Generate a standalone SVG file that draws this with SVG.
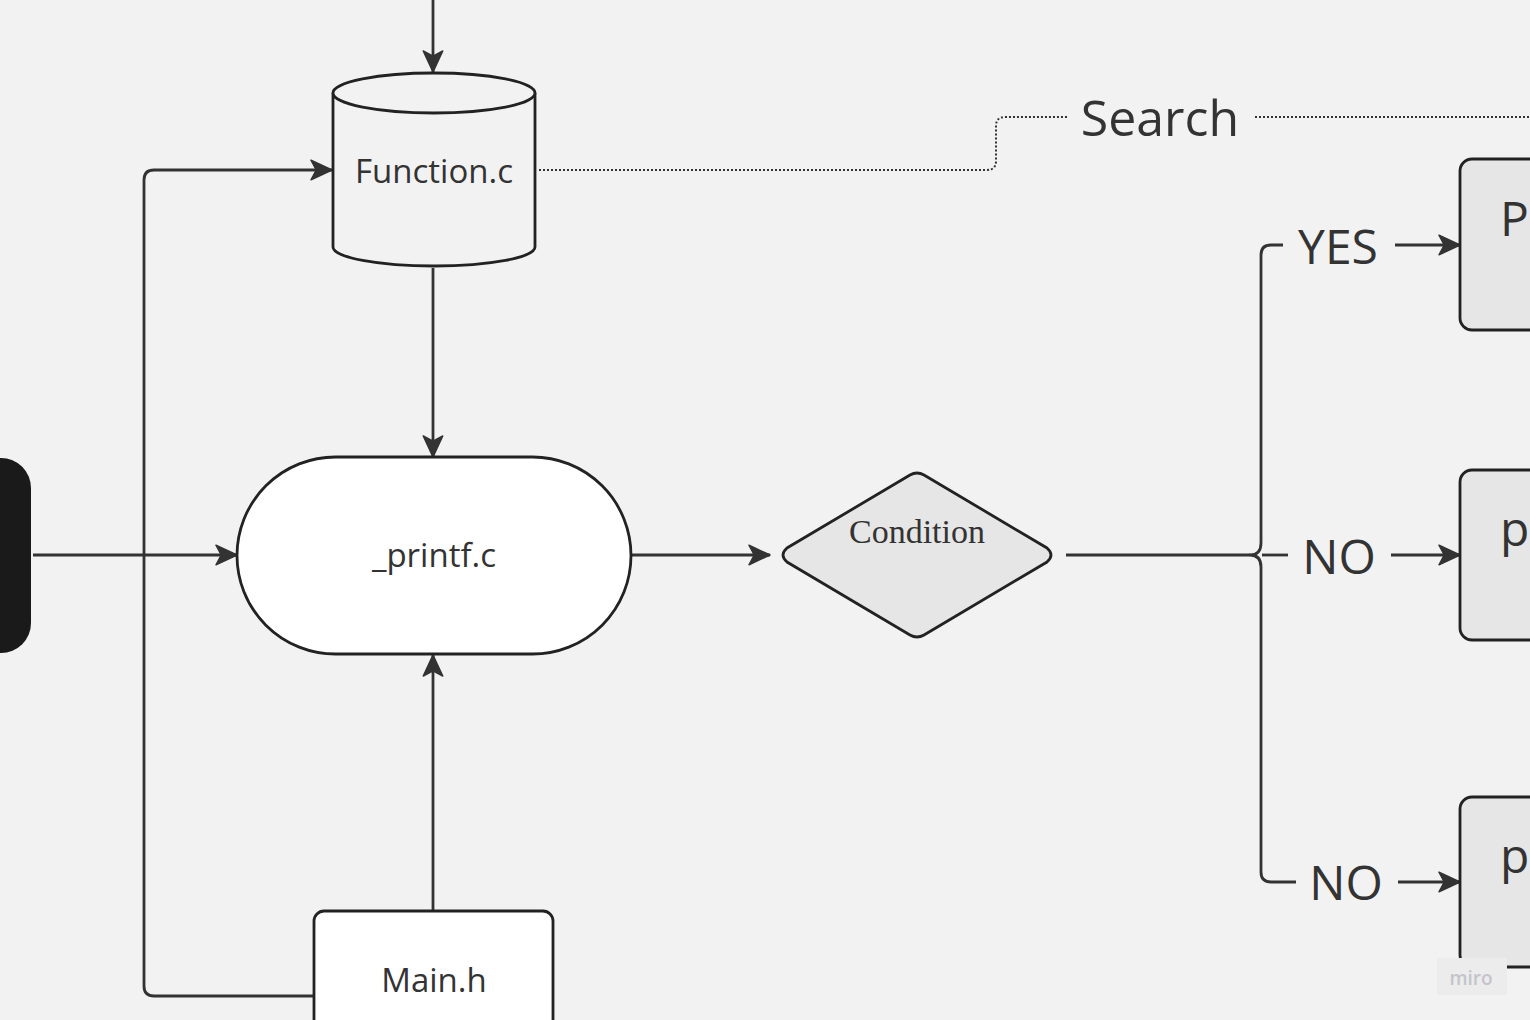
<svg xmlns="http://www.w3.org/2000/svg" width="1530" height="1020" viewBox="0 0 1530 1020">
<style>
.bg{fill:#f2f2f2}
.ln{fill:none;stroke:#333;stroke-width:2.8;stroke-linejoin:round}
.sh{stroke:#222;stroke-width:2.8}
.dot{fill:none;stroke:#333;stroke-width:2;stroke-dasharray:2 2}
.t{font-family:"Open Sans","Noto Sans","Liberation Sans",sans-serif;fill:#333}
</style>
<defs>
<marker id="ah" markerUnits="userSpaceOnUse" markerWidth="24" markerHeight="24" viewBox="0 0 16 16" refX="15" refY="8" orient="auto">
<path d="M1,1.5 L15,8 L1,14.5 L4.5,8 Z" fill="#333" stroke="#333" stroke-width="1" stroke-linejoin="round"/>
</marker>
</defs>
<rect class="bg" x="0" y="0" width="1530" height="1020"/>

<g id="connectors">
<path class="ln" d="M433,0 V72" marker-end="url(#ah)"/>
<path class="ln" d="M314,996 H154 Q144,996 144,986 V180 Q144,170 154,170 H332" marker-end="url(#ah)"/>
<path class="ln" d="M433,268 V457" marker-end="url(#ah)"/>
<path class="ln" d="M33,555 H237" marker-end="url(#ah)"/>
<path class="ln" d="M433,910 V655" marker-end="url(#ah)"/>
<path class="ln" d="M632,555 H770" marker-end="url(#ah)"/>
<path class="dot" d="M539,170 H987 Q996,170 996,161 V126 Q996,117 1005,117 H1068"/>
<path class="dot" d="M1255,117 H1530"/>
<path class="ln" d="M1066,555 H1250"/>
<path class="ln" d="M1283,245 H1271 Q1261,245 1261,255 V543 Q1261,555 1250,555 Q1261,555 1261,567 V872 Q1261,882 1271,882 H1296"/>
<path class="ln" d="M1262,555 H1288"/>
<path class="ln" d="M1395,245 H1460" marker-end="url(#ah)"/>
<path class="ln" d="M1391,555 H1460" marker-end="url(#ah)"/>
<path class="ln" d="M1398,882 H1460" marker-end="url(#ah)"/>
<text class="t" x="1160" y="136" font-size="50" text-anchor="middle">Search</text>
<text class="t" x="1338" y="264" font-size="48" text-anchor="middle">YES</text>
<text class="t" x="1339" y="574" font-size="48" text-anchor="middle">NO</text>
<text class="t" x="1346" y="900" font-size="48" text-anchor="middle">NO</text>
</g>

<g id="start">
<rect x="-40" y="458" width="71" height="195" rx="30" fill="#1a1a1a"/>
</g>

<g id="function-c">
<path class="sh" fill="#f2f2f2" d="M333,93 V247 A101,19 0 0 0 535,247 V93"/>
<ellipse class="sh" fill="#f2f2f2" cx="434" cy="93" rx="101" ry="20"/>
<text class="t" x="434" y="183" font-size="33" text-anchor="middle">Function.c</text>
</g>

<g id="printf-c">
<rect class="sh" fill="#ffffff" x="237" y="457" width="394" height="197" rx="98.5"/>
<text class="t" x="434" y="567" font-size="33" text-anchor="middle">_printf.c</text>
</g>

<g id="main-h">
<rect class="sh" fill="#ffffff" x="314" y="911" width="239" height="140" rx="10"/>
<text class="t" x="434" y="992" font-size="33" text-anchor="middle">Main.h</text>
</g>

<g id="condition">
<path class="sh" fill="#e6e6e6" d="M910,475 Q917,471 924,475 L1047,548 Q1055,555 1047,562 L924,635 Q917,639 910,635 L787,562 Q779,555 787,548 Z"/>
<text x="917" y="543" font-size="34" text-anchor="middle" font-family="'Liberation Serif','Times New Roman',serif" fill="#333">Condition</text>
</g>

<g id="box-yes">
<rect class="sh" fill="#e6e6e6" x="1460" y="159" width="140" height="171" rx="12"/>
<text class="t" x="1500" y="236" font-size="48">P</text>
</g>
<g id="box-no1">
<rect class="sh" fill="#e6e6e6" x="1460" y="470" width="140" height="170" rx="12"/>
<text class="t" x="1500" y="546" font-size="48">p</text>
</g>
<g id="box-no2">
<rect class="sh" fill="#e6e6e6" x="1460" y="797" width="140" height="170" rx="12"/>
<text class="t" x="1500" y="873" font-size="48">p</text>
</g>

<g id="watermark">
<rect x="1437" y="958" width="70" height="37" fill="#ececec"/>
<text x="1471" y="985" font-size="19" text-anchor="middle" font-family="'Open Sans',sans-serif" font-weight="600" fill="#c4c4cc">miro</text>
</g>
</svg>
